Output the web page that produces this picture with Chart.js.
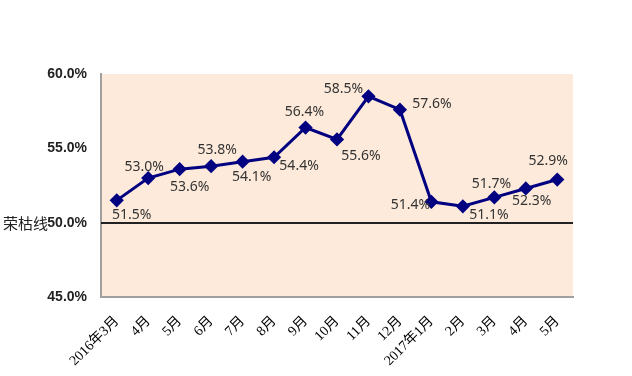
<!DOCTYPE html>
<html>
<head>
<meta charset="utf-8">
<script src="https://cdn.jsdelivr.net/npm/chart.js@4.4.1/dist/chart.umd.min.js"></script>
<style>
  html, body { margin: 0; padding: 0; background: #fff; }
  #wrap { width: 632px; height: 376px; }
</style>
</head>
<body>
<div id="wrap"><canvas id="c" width="632" height="376"></canvas></div>
<script>
// PMI-style index, monthly, 2016-03 .. 2017-05
const months = ['2016年3月', '4月', '5月', '6月', '7月', '8月', '9月', '10月', '11月', '12月', '2017年1月', '2月', '3月', '4月', '5月'];
const indexValues = [51.5, 53.0, 53.6, 53.8, 54.1, 54.4, 56.4, 55.6, 58.5, 57.6, 51.4, 51.1, 51.7, 52.3, 52.9];
const yTicks = [45, 50, 55, 60];
const thresholdValue = 50;
const thresholdName = '荣枯线';

// label nudges (px) so the value labels sit where the original has them
const labelOffsets = [
  [15, 15], [-4, -11], [10, 18], [6, -16], [9, 15], [25, 9], [-1, -16], [24, 17],
  [-25, -7], [32, -6], [-21, 3], [26, 9], [-3, -13], [6, 13], [-9, -19],
];

const plotDecor = {
  id: 'plotDecor',
  beforeDraw(chart) {
    const { ctx, chartArea: a } = chart;
    ctx.save();
    ctx.fillStyle = '#FDEADA';
    ctx.fillRect(a.left, a.top, a.right - a.left, a.bottom - a.top);
    ctx.restore();
  },
  beforeDatasetsDraw(chart) {
    const { ctx, chartArea: a, scales } = chart;
    const y = Math.round(scales.y.getPixelForValue(thresholdValue));
    ctx.save();
    ctx.strokeStyle = '#222';
    ctx.lineWidth = 2;
    ctx.beginPath();
    ctx.moveTo(a.left, y);
    ctx.lineTo(a.right, y);
    ctx.stroke();
    // name of the threshold, left of its tick label
    ctx.fillStyle = '#222';
    ctx.font = '15px "Noto Sans CJK SC"';
    ctx.textAlign = 'right';
    ctx.textBaseline = 'middle';
    ctx.fillText(thresholdName, 48, y);
    ctx.restore();
  },
  afterDatasetsDraw(chart) {
    const { ctx } = chart;
    const meta = chart.getDatasetMeta(0);
    ctx.save();
    ctx.fillStyle = '#333';
    ctx.font = '14px "Noto Sans"';
    ctx.textAlign = 'center';
    ctx.textBaseline = 'middle';
    meta.data.forEach((pt, i) => {
      const [dx, dy] = labelOffsets[i];
      ctx.fillText(indexValues[i].toFixed(1) + '%', pt.x + dx, pt.y + dy);
    });
    ctx.restore();
  },
};

new Chart(document.getElementById('c'), {
  type: 'line',
  data: {
    labels: months,
    datasets: [{
      data: indexValues,
      borderColor: '#000080',
      backgroundColor: '#000080',
      borderWidth: 3,
      pointStyle: 'rectRot',
      pointRadius: 5,
      pointHoverRadius: 5,
      tension: 0,
    }],
  },
  options: {
    responsive: false,
    animation: false,
    events: [],
    layout: { padding: { top: 74, right: 59, left: 0, bottom: 0 } },
    plugins: { legend: { display: false }, tooltip: { enabled: false } },
    scales: {
      x: {
        offset: true,
        grid: { display: false, drawTicks: false },
        border: { display: true, color: '#A0A0A0', width: 2 },
        ticks: {
          color: '#000',
          font: { family: '"Liberation Serif", "Noto Sans CJK SC"', size: 14 },
          minRotation: 45,
          maxRotation: 45,
          autoSkip: false,
          padding: 16,
        },
        afterFit(s) { s.height = 79; },
      },
      y: {
        min: 45,
        max: 60,
        afterBuildTicks(s) { s.ticks = yTicks.map((v) => ({ value: v })); },
        grid: { display: false, drawTicks: false },
        border: { display: true, color: '#A0A0A0', width: 2 },
        ticks: {
          color: '#222',
          font: { family: '"Liberation Sans"', size: 14, weight: 'bold' },
          padding: 14,
          callback: (v) => v.toFixed(1) + '%',
        },
        afterFit(s) { s.width = 101; },
      },
    },
  },
  plugins: [plotDecor],
});
</script>
</body>
</html>
